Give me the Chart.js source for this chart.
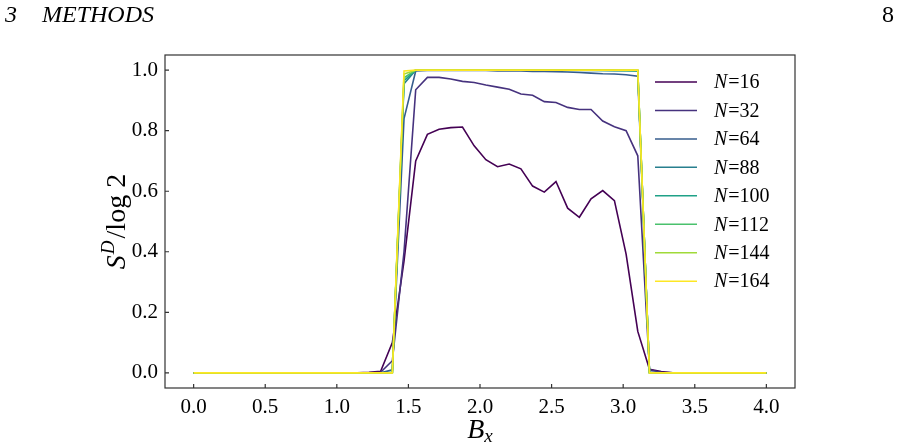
<!DOCTYPE html>
<html>
<head>
<meta charset="utf-8">
<script src="https://cdn.jsdelivr.net/npm/chart.js@4.4.0/dist/chart.umd.min.js"></script>
<style>
  html, body { margin: 0; padding: 0; background: #fff; }
  #wrap { width: 899px; height: 448px; }
</style>
</head>
<body>
<div id="wrap"><canvas id="sdChart" width="899" height="448"></canvas></div>
<script>
// B_x sample points (50 points from 0 to 4)
const bx = [0, 0.0816, 0.1633, 0.2449, 0.3265, 0.4082, 0.4898, 0.5714, 0.6531, 0.7347,
  0.8163, 0.898, 0.9796, 1.0612, 1.1429, 1.2245, 1.3061, 1.3878, 1.4694, 1.551,
  1.6327, 1.7143, 1.7959, 1.8776, 1.9592, 2.0408, 2.1224, 2.2041, 2.2857, 2.3673,
  2.449, 2.5306, 2.6122, 2.6939, 2.7755, 2.8571, 2.9388, 3.0204, 3.102, 3.1837,
  3.2653, 3.3469, 3.4286, 3.5102, 3.5918, 3.6735, 3.7551, 3.8367, 3.9184, 4.0];

const sizes = [16, 32, 64, 88, 100, 112, 144, 164];
const colors = ['#440154', '#46327e', '#365c8d', '#277f8e', '#1fa187', '#4ac16d', '#a0da39', '#fde725'];

// S^D / log 2 for each system size
const s16 = [0, 0, 0, 0, 0, 0, 0, 0, 0, 0, 0, 0, 0, 0, 0, 0.002, 0.005, 0.10, 0.37, 0.70,
  0.788, 0.805, 0.810, 0.812, 0.750, 0.704, 0.681, 0.690, 0.674, 0.617,
  0.597, 0.632, 0.544, 0.514, 0.575, 0.602, 0.569, 0.392, 0.137, 0.012,
  0.004, 0, 0, 0, 0, 0, 0, 0, 0, 0];
const s32 = [0, 0, 0, 0, 0, 0, 0, 0, 0, 0, 0, 0, 0, 0, 0, 0, 0.002, 0.04, 0.40, 0.935,
  0.976, 0.976, 0.971, 0.963, 0.959, 0.951, 0.944, 0.937, 0.921, 0.917,
  0.896, 0.893, 0.877, 0.870, 0.870, 0.832, 0.813, 0.800, 0.717, 0.010,
  0.002, 0, 0, 0, 0, 0, 0, 0, 0, 0];
const s64 = [0, 0, 0, 0, 0, 0, 0, 0, 0, 0, 0, 0, 0, 0, 0, 0, 0, 0.01, 0.84, 0.997,
  0.999, 0.999, 0.999, 0.999, 0.999, 0.999, 0.997, 0.997, 0.997, 0.996,
  0.996, 0.995, 0.994, 0.992, 0.990, 0.988, 0.987, 0.985, 0.980, 0.003,
  0, 0, 0, 0, 0, 0, 0, 0, 0, 0];
const s88 = [0, 0, 0, 0, 0, 0, 0, 0, 0, 0, 0, 0, 0, 0, 0, 0, 0, 0.002, 0.955, 1.0,
  1.0, 1.0, 1.0, 1.0, 1.0, 1.0, 1.0, 1.0, 1.0, 1.0,
  1.0, 1.0, 0.999, 0.999, 0.999, 0.999, 0.998, 0.998, 0.997, 0.001,
  0, 0, 0, 0, 0, 0, 0, 0, 0, 0];
const s100 = [0, 0, 0, 0, 0, 0, 0, 0, 0, 0, 0, 0, 0, 0, 0, 0, 0, 0.001, 0.965, 1.0,
  1.0, 1.0, 1.0, 1.0, 1.0, 1.0, 1.0, 1.0, 1.0, 1.0,
  1.0, 1.0, 1.0, 1.0, 1.0, 0.999, 0.999, 0.999, 0.998, 0.001,
  0, 0, 0, 0, 0, 0, 0, 0, 0, 0];
const s112 = [0, 0, 0, 0, 0, 0, 0, 0, 0, 0, 0, 0, 0, 0, 0, 0, 0, 0.001, 0.975, 1.0,
  1.0, 1.0, 1.0, 1.0, 1.0, 1.0, 1.0, 1.0, 1.0, 1.0,
  1.0, 1.0, 1.0, 1.0, 1.0, 1.0, 1.0, 0.999, 0.999, 0,
  0, 0, 0, 0, 0, 0, 0, 0, 0, 0];
const s144 = [0, 0, 0, 0, 0, 0, 0, 0, 0, 0, 0, 0, 0, 0, 0, 0, 0, 0, 0.987, 1.0,
  1.0, 1.0, 1.0, 1.0, 1.0, 1.0, 1.0, 1.0, 1.0, 1.0,
  1.0, 1.0, 1.0, 1.0, 1.0, 1.0, 1.0, 1.0, 1.0, 0,
  0, 0, 0, 0, 0, 0, 0, 0, 0, 0];
const s164 = [0, 0, 0, 0, 0, 0, 0, 0, 0, 0, 0, 0, 0, 0, 0, 0, 0, 0, 0.997, 1.0,
  1.0, 1.0, 1.0, 1.0, 1.0, 1.0, 1.0, 1.0, 1.0, 1.0,
  1.0, 1.0, 1.0, 1.0, 1.0, 1.0, 1.0, 1.0, 1.0, 0,
  0, 0, 0, 0, 0, 0, 0, 0, 0, 0];

const series = [s16, s32, s64, s88, s100, s112, s144, s164];
const xTicks = [0, 0.5, 1, 1.5, 2, 2.5, 3, 3.5, 4];
const yTicks = [0, 0.2, 0.4, 0.6, 0.8, 1.0];

const serif = '"Liberation Serif", "Times New Roman", Times, serif';

const datasets = series.map((vals, i) => ({
  label: 'N=' + sizes[i],
  data: vals.map((v, k) => ({ x: bx[k], y: v })),
  borderColor: colors[i],
  backgroundColor: colors[i],
  borderWidth: 1.6,
  pointRadius: 0,
  tension: 0,
  order: sizes.length - i   // later sizes drawn on top, like matplotlib
}));

// frame, inward ticks, legend, axis titles and page header
const decorations = {
  id: 'decorations',
  afterDraw(chart) {
    const ctx = chart.ctx;
    const a = chart.chartArea;
    const xs = chart.scales.x, ys = chart.scales.y;
    ctx.save();
    ctx.strokeStyle = '#333';
    ctx.lineWidth = 1.2;
    ctx.strokeRect(a.left, a.top, a.right - a.left, a.bottom - a.top);

    ctx.beginPath();
    xTicks.forEach(v => {
      const px = xs.getPixelForValue(v);
      ctx.moveTo(px, a.bottom);
      ctx.lineTo(px, a.bottom - 4);
    });
    yTicks.forEach(v => {
      const py = ys.getPixelForValue(v);
      ctx.moveTo(a.left, py);
      ctx.lineTo(a.left + 4, py);
    });
    ctx.stroke();

    // legend
    ctx.textBaseline = 'middle';
    chart.data.datasets.forEach((ds, i) => {
      const y = 82 + i * 28.45;
      ctx.strokeStyle = ds.borderColor;
      ctx.lineWidth = 1.5;
      ctx.beginPath();
      ctx.moveTo(655, y);
      ctx.lineTo(697, y);
      ctx.stroke();
      ctx.fillStyle = '#000';
      ctx.font = 'italic 20px ' + serif;
      ctx.textAlign = 'left';
      ctx.fillText('N', 714, y + 1);
      const w = ctx.measureText('N').width;
      ctx.font = '20px ' + serif;
      ctx.fillText('=' + sizes[i], 714 + w + 1, y + 1);
    });

    // x axis title B_x
    ctx.fillStyle = '#000';
    ctx.textBaseline = 'alphabetic';
    ctx.font = 'italic 28px ' + serif;
    const bw = ctx.measureText('B').width;
    ctx.font = 'italic 19px ' + serif;
    const sw = ctx.measureText('x').width;
    let x0 = (a.left + a.right) / 2 - (bw + sw) / 2;
    ctx.font = 'italic 28px ' + serif;
    ctx.fillText('B', x0, 438);
    ctx.font = 'italic 19px ' + serif;
    ctx.fillText('x', x0 + bw, 442);

    // y axis title S^D / log 2
    ctx.save();
    ctx.translate(125, (a.top + a.bottom) / 2);
    ctx.rotate(-Math.PI / 2);
    ctx.font = 'italic 28px ' + serif;
    const w1 = ctx.measureText('S').width;
    ctx.font = 'italic 19px ' + serif;
    const w2 = ctx.measureText('D').width;
    ctx.font = '28px ' + serif;
    const w3 = ctx.measureText('/log 2').width;
    let t = -(w1 + w2 + 3 + w3) / 2;
    ctx.font = 'italic 28px ' + serif;
    ctx.fillText('S', t, 0);
    ctx.font = 'italic 19px ' + serif;
    ctx.fillText('D', t + w1 + 1, -11);
    ctx.font = '28px ' + serif;
    ctx.fillText('/log 2', t + w1 + w2 + 3, 0);
    ctx.restore();

    // page header
    ctx.font = 'italic 24px ' + serif;
    ctx.textAlign = 'left';
    ctx.fillText('3', 5, 22);
    ctx.fillText('METHODS', 42, 22);
    ctx.font = '24px ' + serif;
    ctx.textAlign = 'right';
    ctx.fillText('8', 894, 22);
    ctx.restore();
  }
};

new Chart(document.getElementById('sdChart').getContext('2d'), {
  type: 'line',
  data: { datasets: datasets },
  options: {
    responsive: false,
    animation: false,
    layout: { padding: { top: 55, right: 104, left: 0, bottom: 0 } },
    plugins: { legend: { display: false }, tooltip: { enabled: false } },
    scales: {
      x: {
        type: 'linear',
        min: -0.2,
        max: 4.2,
        afterBuildTicks: s => { s.ticks = xTicks.map(v => ({ value: v })); },
        afterFit: s => { s.height = 60; },
        ticks: {
          color: '#000',
          padding: 7,
          maxRotation: 0,
          font: { family: serif, size: 21 },
          callback: v => v.toFixed(1)
        },
        grid: { display: false, drawTicks: false },
        border: { display: false }
      },
      y: {
        type: 'linear',
        min: -0.05,
        max: 1.05,
        afterBuildTicks: s => { s.ticks = yTicks.map(v => ({ value: v })); },
        afterFit: s => { s.width = 165; },
        ticks: {
          color: '#000',
          padding: 7,
          font: { family: serif, size: 21 },
          callback: v => v.toFixed(1)
        },
        grid: { display: false, drawTicks: false },
        border: { display: false }
      }
    }
  },
  plugins: [decorations]
});
</script>
</body>
</html>
